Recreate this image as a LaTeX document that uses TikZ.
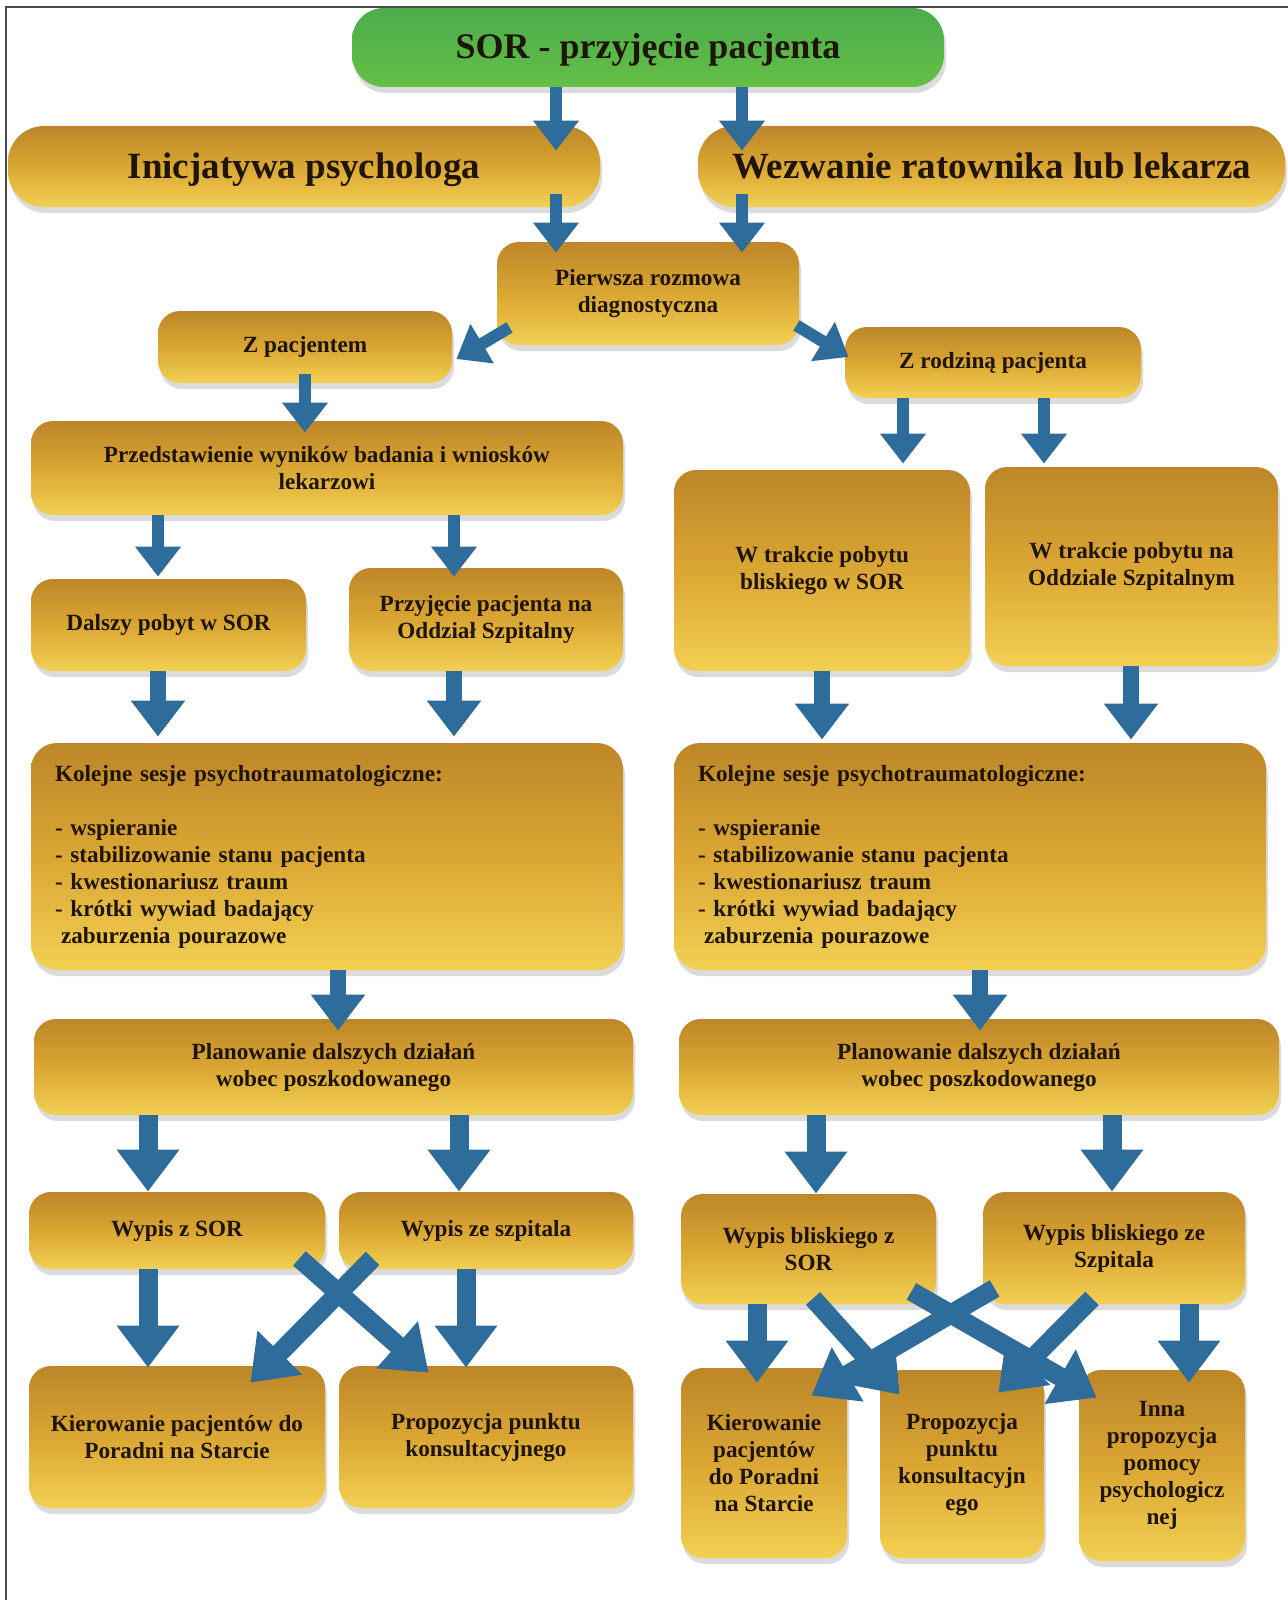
\documentclass[tikz,border=0pt]{standalone}
\usepackage{fontspec}
\setmainfont{Liberation Serif}
\usetikzlibrary{calc,shadows,arrows.meta}
\definecolor{goldT}{HTML}{BD8628}
\definecolor{goldM}{HTML}{DAA633}
\definecolor{goldB}{HTML}{F2D052}
\definecolor{grnT}{HTML}{4CAE4B}
\definecolor{grnB}{HTML}{66C047}
\definecolor{arrblue}{HTML}{2E6C9C}
\definecolor{txt}{HTML}{1E1408}
\definecolor{framecol}{HTML}{4A4A4A}
\tikzset{
  box/.style={rounded corners=11pt, top color=goldT, bottom color=goldB, middle color=goldM,
    draw=none, text=txt, font=\bfseries\fontsize{11.6}{13.5}\selectfont, align=center, inner sep=3pt,
    drop shadow={shadow xshift=1pt, shadow yshift=-3pt, fill=black!40, opacity=0.35}},
  bigbox/.style={box, rounded corners=18pt, font=\bfseries\fontsize{18.5}{22}\selectfont},
  greenbox/.style={box, rounded corners=16pt, top color=grnT, bottom color=grnB, middle color=grnT!60!grnB,
    font=\bfseries\fontsize{18}{21}\selectfont},
  listbox/.style={box, rounded corners=13pt, align=left, text width=272pt, inner xsep=12pt},
  arrS/.style={draw=arrblue, line width=6pt, -{Triangle[width=22pt,length=15pt]}},
  arrM/.style={draw=arrblue, line width=8pt, -{Triangle[width=26pt,length=18pt]}},
  arrL/.style={draw=arrblue, line width=9.5pt, -{Triangle[width=30pt,length=21pt]}},
  framestyle/.style={draw=framecol, line width=1pt}
}
\begin{document}
\begin{tikzpicture}[x=0.5pt, y=-0.5pt]
\useasboundingbox (0,0) rectangle (1288,1600);
\fill[white] (0,0) rectangle (1288,1600);
\coordinate (ftl) at (6,7);
\coordinate (ftr) at (1288,7);
\coordinate (fbl) at (6,1600);
\draw[framestyle] (ftr) -- (ftl) -- (fbl);

% boxes
\node[greenbox, minimum width=296pt, minimum height=39.5pt, text depth=1pt] (sor) at (648,47.5) {SOR - przyjęcie pacjenta};
\node[bigbox, minimum width=296pt, minimum height=40.5pt, text depth=1pt] (ini) at (304,166.5) {Inicjatywa psychologa};
\node[bigbox, minimum width=293.5pt, minimum height=40.5pt, text depth=1pt] (wez) at (991.5,166.5) {Wezwanie ratownika lub lekarza};
\node[box, minimum width=151pt, minimum height=51.5pt] (pie) at (648,293.5) {Pierwsza rozmowa\\diagnostyczna};
\node[box, minimum width=147pt, minimum height=36pt] (zpac) at (305,347) {Z pacjentem};
\node[box, minimum width=148pt, minimum height=35.5pt] (zrod) at (993,362.5) {Z rodziną pacjenta};
\node[box, minimum width=296pt, minimum height=47pt] (prz) at (327,468) {Przedstawienie wyników badania i wniosków\\lekarzowi};
\node[box, minimum width=148pt, minimum height=100.5pt] (wtb) at (822,570.5) {W trakcie pobytu\\bliskiego w SOR};
\node[box, minimum width=146.5pt, minimum height=99.5pt] (wto) at (1131.5,566.5) {W trakcie pobytu na\\Oddziale Szpitalnym};
\node[box, minimum width=137.5pt, minimum height=46pt] (dal) at (168.5,625) {Dalszy pobyt w SOR};
\node[box, minimum width=137pt, minimum height=51.5pt] (prp) at (486,619.5) {Przyjęcie pacjenta na\\Oddział Szpitalny};
\node[listbox, minimum height=113.5pt] (kolL) at (327,856.5) {Kolejne sesje psychotraumatologiczne:\\[13.5pt]
 - wspieranie\\ - stabilizowanie stanu pacjenta\\ - kwestionariusz traum\\ - krótki wywiad badający\\ \hspace*{3pt}zaburzenia pourazowe};
\node[listbox, minimum height=113.5pt] (kolR) at (970,856.5) {Kolejne sesje psychotraumatologiczne:\\[13.5pt]
 - wspieranie\\ - stabilizowanie stanu pacjenta\\ - kwestionariusz traum\\ - krótki wywiad badający\\ \hspace*{3pt}zaburzenia pourazowe};
\node[box, minimum width=299.5pt, minimum height=48pt] (plaL) at (333.5,1067) {Planowanie dalszych działań\\wobec poszkodowanego};
\node[box, minimum width=300pt, minimum height=48pt] (plaR) at (979,1067) {Planowanie dalszych działań\\wobec poszkodowanego};
\node[box, minimum width=148pt, minimum height=38.5pt] (wsor) at (177,1230.5) {Wypis z SOR};
\node[box, minimum width=147pt, minimum height=38.5pt] (wszp) at (486,1230.5) {Wypis ze szpitala};
\node[box, minimum width=127.5pt, minimum height=55pt] (wbs) at (808.5,1249) {Wypis bliskiego z\\SOR};
\node[box, minimum width=131pt, minimum height=56pt] (wbz) at (1114,1248) {Wypis bliskiego ze\\Szpitala};
\node[box, minimum width=148pt, minimum height=71pt] (kirL) at (177,1437) {Kierowanie pacjentów do\\Poradni na Starcie};
\node[box, minimum width=147pt, minimum height=71pt] (proL) at (486,1437) {Propozycja punktu\\konsultacyjnego};
\node[box, minimum width=83pt, minimum height=95pt] (kirR) at (764,1463) {Kierowanie\\pacjentów\\do Poradni\\na Starcie};
\node[box, minimum width=82pt, minimum height=94pt] (proR) at (962,1464) {Propozycja\\punktu\\konsultacyjn\\ego};
\node[box, minimum width=83pt, minimum height=95.5pt] (inna) at (1162,1465.5) {Inna\\propozycja\\pomocy\\psychologicz\\nej};

% arrows
\draw[arrS] (sor.south -| 556,0) -- ($(ini.north -| 556,0)+(0,25)$);
\draw[arrS] (sor.south -| 742,0) -- ($(wez.north -| 742,0)+(0,25)$);
\draw[arrS] ($(ini.south -| 556,0)+(0,-13)$) -- ($(pie.north -| 556,0)+(0,11)$);
\draw[arrS] ($(wez.south -| 742,0)+(0,-13)$) -- ($(pie.north -| 742,0)+(0,11)$);
\draw[arrS] ($(pie.south west)+(13,-18)$) -- ($(zpac.east)+(4,12)$);
\draw[arrS] ($(pie.south east)+(-3,-20)$) -- ($(zrod.west)+(4,-5.5)$);
\draw[arrS] ($(zpac.south -| 305,0)+(0,-9)$) -- ($(prz.north -| 305,0)+(0,12)$);
\draw[arrS] (zrod.south -| 903,0) -- ($(wtb.north -| 903,0)+(0,-6)$);
\draw[arrS] (zrod.south -| 1044,0) -- ($(wto.north -| 1044,0)+(0,-3)$);
\draw[arrS] (prz.south -| 158,0) -- ($(dal.north -| 158,0)+(0,-2)$);
\draw[arrS] (prz.south -| 454,0) -- ($(prp.north -| 454,0)+(0,9)$);
\draw[arrM] (dal.south -| 158,0) -- ($(kolL.north -| 158,0)+(0,-6)$);
\draw[arrM] (prp.south -| 454,0) -- ($(kolL.north -| 454,0)+(0,-6)$);
\draw[arrM] (wtb.south -| 822,0) -- ($(kolR.north -| 822,0)+(0,-3)$);
\draw[arrM] (wto.south -| 1131,0) -- ($(kolR.north -| 1131,0)+(0,-3)$);
\draw[arrM] (kolL.south -| 338,0) -- ($(plaL.north -| 338,0)+(0,12)$);
\draw[arrM] (kolR.south -| 980,0) -- ($(plaR.north -| 980,0)+(0,12)$);
\draw[arrL] (plaL.south -| 148,0) -- (wsor.north -| 148,0);
\draw[arrL] (plaL.south -| 459,0) -- (wszp.north -| 459,0);
\draw[arrL] (plaR.south -| 816,0) -- (wbs.north -| 816,0);
\draw[arrL] (plaR.south -| 1112,0) -- (wbz.north -| 1112,0);
\draw[arrL] (wsor.south -| 148,0) -- ($(kirL.north -| 148,0)+(0,2)$);
\draw[arrL] (wszp.south -| 466,0) -- ($(proL.north -| 466,0)+(0,2)$);
\draw[arrL] ($(wszp.south west)+(34,-11)$) -- ($(kirL.north east)+(-75,17)$);
\draw[arrL] ($(wsor.south east)+(-26,-11)$) -- ($(proL.north west)+(90,7)$);
\draw[arrL] (wbs.south -| 757,0) -- ($(kirR.north -| 757,0)+(0,15)$);
\draw[arrL] ($(wbs.south)+(4.5,-6)$) -- ($(proR.north west)+(20,25)$);
\draw[arrL] ($(wbs.south east)+(-25,-13)$) -- ($(inna.north west)+(18,28)$);
\draw[arrL] ($(wbz.south west)+(12,-16)$) -- ($(kirR.north east)+(-36,28)$);
\draw[arrL] ($(wbz.south)+(-22,-6)$) -- ($(proR.north east)+(-46,23)$);
\draw[arrL] (wbz.south -| 1189,0) -- ($(inna.north -| 1189,0)+(0,13)$);
\end{tikzpicture}
\end{document}
